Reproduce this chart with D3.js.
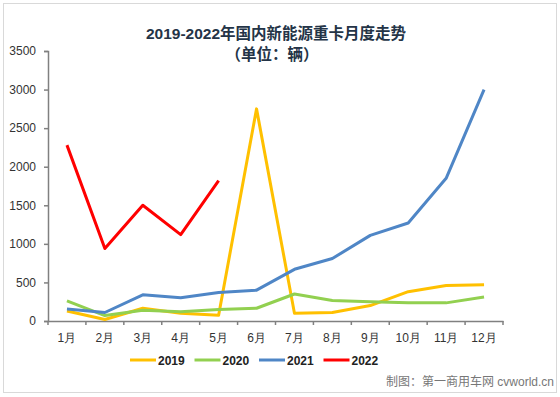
<!DOCTYPE html>
<html>
<head>
<meta charset="utf-8">
<script src="https://cdn.jsdelivr.net/npm/d3@7"></script>
<style>
  body { margin: 0; background: #fff; }
  svg { display: block; font-family: "Liberation Sans", Arial, "Noto Sans CJK SC", sans-serif; }
</style>
</head>
<body>
<script>
// months on x axis
const months = ["1月","2月","3月","4月","5月","6月","7月","8月","9月","10月","11月","12月"];
const years = ["2019", "2020", "2021", "2022"];
const colors = ["#FFC000", "#92D050", "#4F86C6", "#FF0000"];

// monthly sales
const v2019 = [130, 20, 165, 100, 75, 2750, 100, 110, 200, 380, 460, 470];
const v2020 = [260, 70, 140, 120, 150, 165, 350, 265, 250, 235, 235, 310];
const v2021 = [155, 110, 340, 300, 370, 400, 670, 810, 1110, 1270, 1850, 3000];
const v2022 = [2280, 940, 1500, 1120, 1820];
const series = [v2019, v2020, v2021, v2022];

const yTicks = [0, 500, 1000, 1500, 2000, 2500, 3000, 3500];

const W = 560, H = 397;
const margin = { top: 51, right: 57, bottom: 76, left: 48 };
const width = W - margin.left - margin.right,
  height = H - margin.top - margin.bottom;

const svg = d3.select("body").append("svg")
  .attr("width", W)
  .attr("height", H);

// outer border
svg.append("rect")
  .attr("x", 3.5).attr("y", 3.5)
  .attr("width", W - 7).attr("height", H - 8)
  .attr("fill", "#fff")
  .attr("stroke", "#d9d9d9");

// title
svg.append("text")
  .attr("x", 276).attr("y", 39)
  .attr("text-anchor", "middle")
  .attr("font-size", 15.5).attr("font-weight", "bold")
  .attr("fill", "#243447")
  .text("2019-2022年国内新能源重卡月度走势");
svg.append("text")
  .attr("x", 272).attr("y", 60)
  .attr("text-anchor", "middle")
  .attr("font-size", 15.5).attr("font-weight", "bold")
  .attr("fill", "#243447")
  .text("（单位：辆）");

const g = svg.append("g")
  .attr("transform", `translate(${margin.left}, ${margin.top})`);

const x = d3.scaleBand().domain(months).range([0, width]);
const y = d3.scaleLinear().domain([0, 3500]).range([height, 0]);

// y axis
const yAxis = g.append("g")
  .call(d3.axisLeft(y).tickValues(yTicks).tickFormat(d3.format("d")).tickSize(4).tickPadding(8));
yAxis.selectAll("path, line").attr("stroke", "#808080").attr("stroke-width", 1.5);
yAxis.selectAll("text").attr("font-size", 12).attr("fill", "#333");

// x axis, ticks between categories
const xAxis = g.append("g")
  .attr("transform", `translate(0, ${height})`)
  .call(d3.axisBottom(x).tickSize(0).tickPadding(12));
xAxis.select("path").attr("stroke", "#808080").attr("stroke-width", 1.5);
xAxis.selectAll("text").attr("font-size", 12).attr("fill", "#333");
xAxis.selectAll(".sep")
  .data(d3.range(months.length + 1))
  .enter().append("line")
  .attr("class", "sep")
  .attr("x1", (i) => i * x.step()).attr("x2", (i) => i * x.step())
  .attr("y1", 0).attr("y2", 4)
  .attr("stroke", "#808080").attr("stroke-width", 1.5);

const line = d3.line()
  .x((d, i) => x(months[i]) + x.bandwidth() / 2)
  .y((d) => y(d));

g.selectAll(".series")
  .data(series)
  .enter().append("path")
  .attr("class", "series")
  .attr("fill", "none")
  .attr("stroke", (d, i) => colors[i])
  .attr("stroke-width", 3)
  .attr("stroke-linejoin", "round")
  .attr("d", line);

// legend
const legend = svg.append("g").attr("transform", "translate(130, 360)");
const lg = legend.selectAll("g")
  .data(years)
  .enter().append("g")
  .attr("transform", (d, i) => `translate(${i * 64.5}, 0)`);
lg.append("line")
  .attr("x1", 0).attr("x2", 26)
  .attr("stroke", (d, i) => colors[i])
  .attr("stroke-width", 3);
lg.append("text")
  .attr("x", 28).attr("y", 4.5)
  .attr("font-size", 12).attr("font-weight", "bold")
  .attr("fill", "#222")
  .text((d) => d);

// watermark
svg.append("text")
  .attr("x", 554).attr("y", 386)
  .attr("text-anchor", "end")
  .attr("font-size", 12)
  .attr("fill", "#777")
  .text("制图：第一商用车网 cvworld.cn");
</script>
</body>
</html>
